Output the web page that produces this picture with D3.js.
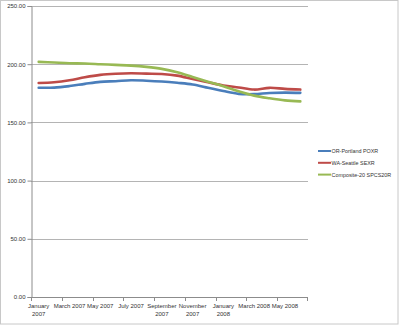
<!DOCTYPE html>
<html>
<head>
<meta charset="utf-8">
<script src="https://cdn.jsdelivr.net/npm/d3@7"></script>
<style>
  html, body { margin: 0; padding: 0; background: #fff; }
  svg { display: block; }
  text { font-family: "Liberation Sans", Arial, sans-serif; fill: #333; }
</style>
</head>
<body>
<svg id="chart" width="400" height="325"></svg>
<script>
// Monthly index values, January 2007 to June 2008
const months = [
  "January 2007", "February 2007", "March 2007", "April 2007", "May 2007", "June 2007",
  "July 2007", "August 2007", "September 2007", "October 2007", "November 2007", "December 2007",
  "January 2008", "February 2008", "March 2008", "April 2008", "May 2008", "June 2008"
];
const portland = [179.8, 179.9, 181.2, 183.1, 184.8, 185.4, 186.2, 185.8, 185.1, 184.0, 182.6, 179.8, 176.9, 174.5, 174.3, 175.3, 175.6, 175.4];
const seattle  = [183.9, 184.5, 186.2, 188.8, 190.8, 191.8, 192.2, 191.9, 191.6, 190.2, 187.3, 184.5, 181.7, 180.0, 178.2, 179.7, 178.8, 178.2];
const composite = [202.0, 201.4, 200.8, 200.6, 200.0, 199.4, 198.8, 197.7, 196.0, 193.1, 189.1, 185.0, 181.0, 176.7, 173.0, 170.7, 168.9, 168.1];
const seriesNames = ["OR-Portland POXR", "WA-Seattle SEXR", "Composite-20 SPCS20R"];
const seriesColors = ["#4a7ebb", "#be4b48", "#98b954"];
const yTicks = [0, 50, 100, 150, 200, 250];
// Category labels shown every other month; long ones wrap onto two lines
const xLabels = {
  "January 2007": ["January", "2007"],
  "March 2007": ["March 2007"],
  "May 2007": ["May 2007"],
  "July 2007": ["July 2007"],
  "September 2007": ["September", "2007"],
  "November 2007": ["November", "2007"],
  "January 2008": ["January", "2008"],
  "March 2008": ["March 2008"],
  "May 2008": ["May 2008"]
};

const svg = d3.select("#chart");

// Outer chart frame
svg.append("rect")
  .attr("x", 0.5).attr("y", 0.5)
  .attr("width", 397.5).attr("height", 323.5)
  .attr("fill", "#fff").attr("stroke", "#c8c8c8").attr("stroke-width", 1);

const plot = { left: 31, right: 308, top: 6, bottom: 297 };

const x = d3.scaleBand().domain(months).range([plot.left, plot.right]).padding(0);
const y = d3.scaleLinear().domain([0, 250]).range([plot.bottom, plot.top]);

// Horizontal gridlines
svg.append("g")
  .selectAll("line")
  .data(yTicks.filter(t => t > 0))
  .join("line")
  .attr("x1", plot.left).attr("x2", plot.right)
  .attr("y1", d => Math.round(y(d)) + 0.5).attr("y2", d => Math.round(y(d)) + 0.5)
  .attr("stroke", "#b4b4b4").attr("stroke-width", 1);

// Value axis
const yAxis = svg.append("g")
  .attr("transform", `translate(${plot.left + 0.5},0)`)
  .call(d3.axisLeft(y).tickValues(yTicks).tickFormat(d3.format(".2f")).tickSize(4).tickPadding(2));
yAxis.select(".domain").attr("stroke", "#8c8c8c");
yAxis.selectAll(".tick line").attr("stroke", "#8c8c8c");
yAxis.selectAll(".tick text").attr("font-size", "6px").attr("font-family", "Liberation Sans, Arial, sans-serif").attr("fill", "#333");

// Category axis, ticks between every second month
const xAxisG = svg.append("g");
xAxisG.append("line")
  .attr("x1", plot.left).attr("x2", plot.right)
  .attr("y1", plot.bottom + 0.5).attr("y2", plot.bottom + 0.5)
  .attr("stroke", "#8c8c8c");
xAxisG.selectAll("line.tick")
  .data(months.filter((m, i) => i % 2 === 0).concat(["end"]))
  .join("line")
  .attr("class", "tick")
  .attr("x1", d => d === "end" ? plot.right - 0.5 : Math.round(x(d)) + 0.5)
  .attr("x2", d => d === "end" ? plot.right - 0.5 : Math.round(x(d)) + 0.5)
  .attr("y1", plot.bottom).attr("y2", plot.bottom + 4)
  .attr("stroke", "#8c8c8c");
const labelG = xAxisG.selectAll("text")
  .data(months.filter(m => xLabels[m]))
  .join("text")
  .attr("text-anchor", "middle")
  .attr("font-size", "6px")
  .attr("transform", d => `translate(${x(d) + x.bandwidth() / 2},${plot.bottom + 11})`);
labelG.selectAll("tspan")
  .data(d => xLabels[d])
  .join("tspan")
  .attr("x", 0)
  .attr("dy", (d, i) => i === 0 ? 0 : 8)
  .text(d => d);

// Series lines
const allSeries = [portland, seattle, composite];
const line = d3.line()
  .x((d, i) => x(months[i]) + x.bandwidth() / 2)
  .y(d => y(d))
  .curve(d3.curveCatmullRom.alpha(0.5));

svg.append("g")
  .selectAll("path")
  .data(allSeries)
  .join("path")
  .attr("d", line)
  .attr("fill", "none")
  .attr("stroke", (d, i) => seriesColors[i])
  .attr("stroke-width", 2.6)
  .attr("stroke-linejoin", "round")
  .attr("stroke-linecap", "round");

// Legend
const legend = svg.append("g")
  .selectAll("g")
  .data(seriesNames)
  .join("g")
  .attr("transform", (d, i) => `translate(318,${151 + i * 11.8})`);
legend.append("line")
  .attr("x1", 0).attr("x2", 13)
  .attr("y1", 0).attr("y2", 0)
  .attr("stroke", (d, i) => seriesColors[i])
  .attr("stroke-width", 2);
legend.append("text")
  .attr("x", 13.5).attr("y", 2)
  .attr("font-size", "5.4px")
  .text(d => d);
</script>
</body>
</html>
